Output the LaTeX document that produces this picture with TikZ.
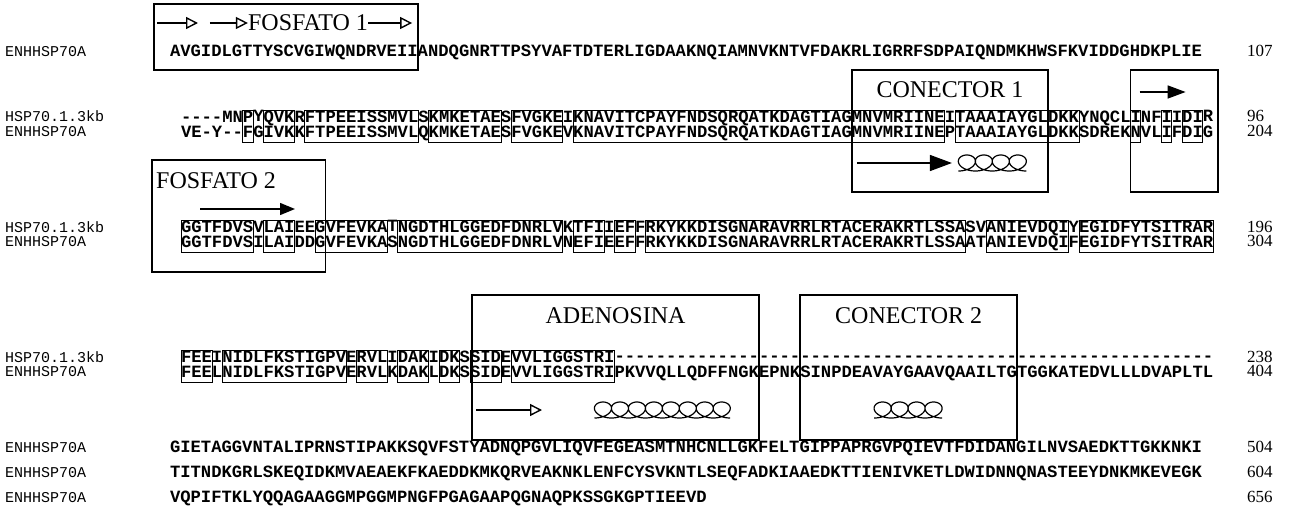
\documentclass[tikz,border=0pt]{standalone}
\usepackage{fontspec}
\setmainfont{Liberation Serif}
\newfontfamily\seqfamily{Liberation Mono}[Ligatures=TeXOff]
\usepackage{tikz}
\usetikzlibrary{arrows.meta,positioning,calc}
\newcommand{\seqfont}{\seqfamily\bfseries\fontsize{17.2}{14.5}\selectfont}
\newcommand{\namefont}{\seqfamily\fontsize{15}{17}\selectfont}
\newcommand{\numfont}{\fontsize{17}{19}\selectfont}
\newcommand{\titlefont}{\fontsize{24}{28}\selectfont}
\newcommand{\pair}[2]{\begin{tabular}{@{}l@{}}#1\\#2\end{tabular}}
% a row of helix loops, starting at #1, #2 loops
\newcommand{\coilrun}[2]{\draw[helixline, shift={#1}] plot[domain=180:180+360*#2, samples=360, variable=\t] ({2.7*rad(\t)-12.5*sin(\t)}, {-8*cos(\t)});}
\tikzset{
  seqtext/.style={font=\seqfont, inner xsep=0pt, inner ysep=0.5pt, outer sep=0pt},
  gapseg/.style={seqtext},
  blkseg/.style={seqtext, draw, line width=0.9pt},
  domainbox/.style={draw, line width=1.7pt},
  domaintitle/.style={font=\titlefont, inner sep=0pt},
  seqname/.style={font=\namefont, anchor=base west, inner sep=0pt},
  seqnum/.style={font=\numfont, anchor=base west, inner sep=0pt},
  openarr/.style={-{Triangle[open, length=12pt, width=12pt]}, line width=1.4pt},
  darkarr/.style={-{Triangle[length=15pt, width=12pt]}, line width=1.4pt},
  bigarr/.style={-{Triangle[length=22pt, width=16pt]}, line width=1.5pt},
  midarr/.style={-{Triangle[length=18pt, width=13pt]}, line width=1.5pt},
  helixline/.style={line width=1.2pt, line join=round}
}
\begin{document}
\begin{tikzpicture}[x=1pt, y=-1pt, node distance=0pt]
  \useasboundingbox (0,0) rectangle (1290,524);

  % row 1
  \node[seqname] (n1) at (5,57) {ENHHSP70A};
  \node[seqtext, anchor=base west] (top1) at (170,57) {AVGIDLGTTYSCVGIWQNDRVEII};
  \node[seqtext, anchor=base west] (top2) at (top1.base east) {ANDQGNRTTPSYVAFTDTERLIGDAAKNQIAMNVKNTVFDAKRLIGRRFSDPAIQNDMKHWSFKVIDDGHDKPLIE};
  \node[seqnum] (m1) at (1247,57) {107};

  % row 2
  \node[seqname] (n2a) at (5,122) {HSP70.1.3kb};
  \node[seqname] (n2b) at (5,136.5) {ENHHSP70A};
  \node[gapseg, anchor=west] (a1) at (181,126.4) {\pair{----MN}{VE-Y--}};
  \node[blkseg, right=of a1] (a2) {\pair{P}{F}};
  \node[gapseg, right=of a2] (a3) {\pair{Y}{G}};
  \node[blkseg, right=of a3] (a4) {\pair{QVK}{IVK}};
  \node[gapseg, right=of a4] (a5) {\pair{R}{K}};
  \node[blkseg, right=of a5] (a6) {\pair{FTPEEISSMVL}{FTPEEISSMVL}};
  \node[gapseg, right=of a6] (a7) {\pair{S}{Q}};
  \node[blkseg, right=of a7] (a8) {\pair{KMKETAE}{KMKETAE}};
  \node[gapseg, right=of a8] (a9) {\pair{S}{S}};
  \node[blkseg, right=of a9] (a10) {\pair{FVGKE}{FVGKE}};
  \node[gapseg, right=of a10] (a11) {\pair{I}{V}};
  \node[blkseg, right=of a11] (a12) {\pair{KNAVITCPAYFNDSQRQATKDAGTIAG}{KNAVITCPAYFNDSQRQATKDAGTIAG}};
  \node[blkseg, right=of a12] (a13) {\pair{MNVMRIINE}{MNVMRIINE}};
  \node[gapseg, right=of a13] (a14) {\pair{I}{P}};
  \node[blkseg, right=of a14] (a15) {\pair{TAAAIAYGL}{TAAAIAYGL}};
  \node[blkseg, right=of a15] (a16) {\pair{DKK}{DKK}};
  \node[gapseg, right=of a16] (a17) {\pair{YNQCL}{SDREK}};
  \node[blkseg, right=of a17] (a18) {\pair{I}{N}};
  \node[gapseg, right=of a18] (a19) {\pair{NF}{VL}};
  \node[blkseg, right=of a19] (a20) {\pair{I}{I}};
  \node[gapseg, right=of a20] (a21) {\pair{I}{F}};
  \node[blkseg, right=of a21] (a22) {\pair{DI}{DI}};
  \node[gapseg, right=of a22] (a23) {\pair{R}{G}};
  \node[seqnum] (m2a) at (1247,122) {96};
  \node[seqnum] (m2b) at (1247,136.5) {204};

  % row 3
  \node[seqname] (n3a) at (5,232) {HSP70.1.3kb};
  \node[seqname] (n3b) at (5,246.5) {ENHHSP70A};
  \node[blkseg, anchor=west] (b1) at (181,236.4) {\pair{GGTFDVS}{GGTFDVS}};
  \node[gapseg, right=of b1] (b2) {\pair{V}{I}};
  \node[blkseg, right=of b2] (b3) {\pair{LAI}{LAI}};
  \node[gapseg, right=of b3] (b4) {\pair{EE}{DD}};
  \node[blkseg, right=of b4] (b5) {\pair{GVFEVKA}{GVFEVKA}};
  \node[gapseg, right=of b5] (b6) {\pair{T}{S}};
  \node[blkseg, right=of b6] (b7) {\pair{NGDTHLGGEDFDNRLV}{NGDTHLGGEDFDNRLV}};
  \node[gapseg, right=of b7] (b8) {\pair{K}{N}};
  \node[blkseg, right=of b8] (b9) {\pair{TFI}{EFI}};
  \node[gapseg, right=of b9] (b10) {\pair{I}{E}};
  \node[blkseg, right=of b10] (b11) {\pair{EF}{EF}};
  \node[gapseg, right=of b11] (b12) {\pair{F}{F}};
  \node[blkseg, right=of b12] (b13) {\pair{RKYKKDISGNARAVRRLRTACERAKRTLSSA}{RKYKKDISGNARAVRRLRTACERAKRTLSSA}};
  \node[gapseg, right=of b13] (b14) {\pair{SV}{AT}};
  \node[blkseg, right=of b14] (b15) {\pair{ANIEVDQI}{ANIEVDQI}};
  \node[gapseg, right=of b15] (b16) {\pair{Y}{F}};
  \node[blkseg, right=of b16] (b17) {\pair{EGIDFYTSITRAR}{EGIDFYTSITRAR}};
  \node[seqnum] (m3a) at (1247,232) {196};
  \node[seqnum] (m3b) at (1247,246.5) {304};

  % row 4
  \node[seqname] (n4a) at (5,362) {HSP70.1.3kb};
  \node[seqname] (n4b) at (5,376.5) {ENHHSP70A};
  \node[blkseg, anchor=west] (c1) at (181,366.4) {\pair{FEE}{FEE}};
  \node[gapseg, right=of c1] (c2) {\pair{I}{L}};
  \node[blkseg, right=of c2] (c3) {\pair{NIDLFKSTIGPV}{NIDLFKSTIGPV}};
  \node[gapseg, right=of c3] (c4) {\pair{E}{E}};
  \node[blkseg, right=of c4] (c5) {\pair{RVL}{RVL}};
  \node[gapseg, right=of c5] (c6) {\pair{I}{K}};
  \node[blkseg, right=of c6] (c7) {\pair{DAK}{DAK}};
  \node[gapseg, right=of c7] (c8) {\pair{I}{L}};
  \node[blkseg, right=of c8] (c9) {\pair{DK}{DK}};
  \node[gapseg, right=of c9] (c10) {\pair{S}{S}};
  \node[blkseg, right=of c10] (c11) {\pair{SID}{SID}};
  \node[gapseg, right=of c11] (c12) {\pair{E}{E}};
  \node[blkseg, right=of c12] (c13) {\pair{VVLIGGSTRI}{VVLIGGSTRI}};
  \node[gapseg, right=of c13] (c14) {\pair{--------------}{PKVVQLLQDFFNGK}};
  \node[gapseg, right=of c14] (c15) {\pair{----}{EPNK}};
  \node[gapseg, right=of c15] (c16) {\pair{---------------------}{SINPDEAVAYGAAVQAAILTG}};
  \node[gapseg, right=of c16] (c17) {\pair{-------------------}{TGGKATEDVLLLDVAPLTL}};
  \node[seqnum] (m4a) at (1247,362) {238};
  \node[seqnum] (m4b) at (1247,376.5) {404};

  % rows 5-7
  \node[seqname] (n5) at (5,452) {ENHHSP70A};
  \node[seqname] (n6) at (5,477) {ENHHSP70A};
  \node[seqname] (n7) at (5,502) {ENHHSP70A};
  \node[seqtext, anchor=base west] (r5) at (170,452) {GIETAGGVNTALIPRNSTIPAKKSQVFSTYADNQPGVLIQVFEGEASMTNHCNLLGKFELTGIPPAPRGVPQIEVTFDIDANGILNVSAEDKTTGKKNKI};
  \node[seqtext, anchor=base west] (r6) at (170,477) {TITNDKGRLSKEQIDKMVAEAEKFKAEDDKMKQRVEAKNKLENFCYSVKNTLSEQFADKIAAEDKTTIENIVKETLDWIDNNQNASTEEYDNKMKEVEGK};
  \node[seqtext, anchor=base west] (r7) at (170,502) {VQPIFTKLYQQAGAAGGMPGGMPNGFPGAGAAPQGNAQPKSSGKGPTIEEVD};
  \node[seqnum] (m5) at (1247,452) {504};
  \node[seqnum] (m6) at (1247,477) {604};
  \node[seqnum] (m7) at (1247,502) {656};

  % FOSFATO 1
  \coordinate (f1bot) at (0,70);
  \draw[domainbox] (154,4) rectangle (top1.east |- f1bot);
  \node[domaintitle] (f1) at (308,23) {FOSFATO 1};
  \coordinate (f1tail) at (157,23);
  \draw[openarr] (f1tail) -- ++(41,0);
  \draw[openarr] ($(f1.west)+(-38,0)$) -- (f1.west);
  \draw[openarr] (f1.east) -- ++(44,0);

  % FOSFATO 2
  \coordinate (f2bot) at (0,272);
  \coordinate (f2edge) at ($(b5.west)!1/7!(b5.east)$);
  \draw[domainbox] (152,160) rectangle (f2edge |- f2bot);
  \node[domaintitle, anchor=west] (f2) at (156,181) {FOSFATO 2};
  \coordinate (f2tail) at (200,209);
  \draw[darkarr] (f2tail) -- ++(95,0);

  % CONECTOR 1 and the box beside it
  \coordinate (c1top) at (0,70);
  \coordinate (c1bot) at (0,192);
  \coordinate (c1mid) at (0,163);
  \coordinate (k1nw) at (a13.west |- c1top);
  \coordinate (k1se) at (a15.east |- c1bot);
  \draw[domainbox] (k1nw) rectangle (k1se);
  \node[domaintitle] (k1) at ($(k1nw)!.5!(k1nw -| k1se)+(0,20)$) {CONECTOR 1};
  \draw[bigarr] ($(k1nw |- c1mid)+(5,0)$) -- ++(95,0);
  \coilrun{($(k1nw |- c1mid)+(98,0)$)}{4}
  \coordinate (sbnw) at (a18.west |- c1top);
  \coordinate (sbse) at ($(a23.east |- c1bot)+(5,0)$);
  \draw[domainbox] (sbnw) rectangle (sbse);
  \draw[midarr] ($(sbnw)+(9,22)$) -- ++(46,0);

  % ADENOSINA and CONECTOR 2
  \coordinate (adtop) at (0,295);
  \coordinate (adbot) at (0,440);
  \coordinate (admid) at (0,410);
  \coordinate (adnw) at ($(c11.west |- adtop)+(2,0)$);
  \coordinate (adse) at (c14.east |- adbot);
  \draw[domainbox] (adnw) rectangle (adse);
  \node[domaintitle] (adn) at ($(adnw)!.5!(adnw -| adse)+(0,21)$) {ADENOSINA};
  \draw[openarr] ($(adnw |- admid)+(4,0)$) -- ++(66,0);
  \coilrun{($(adnw |- admid)+(114,0)$)}{8}
  \coordinate (k2nw) at (c16.west |- adtop);
  \coordinate (k2se) at (c16.east |- adbot);
  \draw[domainbox] (k2nw) rectangle (k2se);
  \node[domaintitle] (k2) at ($(k2nw)!.5!(k2nw -| k2se)+(0,21)$) {CONECTOR 2};
  \coilrun{($(k2nw |- admid)!.5!(k2se |- admid)+(-43,0)$)}{4}
\end{tikzpicture}
\end{document}
